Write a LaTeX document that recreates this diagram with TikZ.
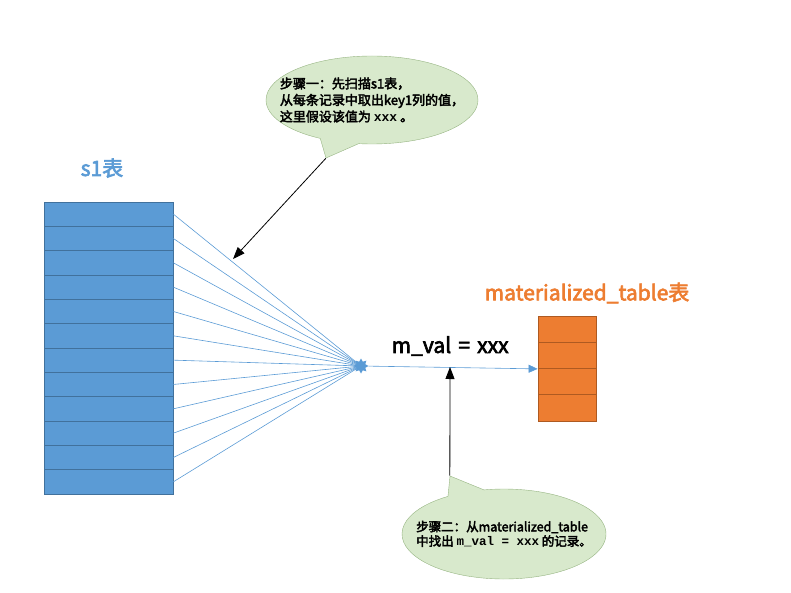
\documentclass[tikz,border=0pt]{standalone}
\usepackage{fontspec}
\setmainfont{Noto Sans CJK SC}[BoldFont={Noto Sans CJK SC},BoldFeatures={FakeBold=3}]
\setmonofont{Liberation Mono}
\usetikzlibrary{shapes.callouts,shapes.geometric,arrows.meta}
\definecolor{s1blue}{RGB}{91,155,213}
\definecolor{s1edge}{RGB}{65,113,156}
\definecolor{mtorange}{RGB}{237,125,49}
\definecolor{mtedge}{RGB}{174,90,33}
\definecolor{notefill}{RGB}{216,233,204}
\definecolor{noteedge}{RGB}{150,180,130}
\tikzset{
    s1row/.style={draw=s1edge,fill=s1blue,line width=0.8pt,minimum width=129pt,minimum height=24.33pt,inner sep=0pt},
    mtrow/.style={draw=mtedge,fill=mtorange,line width=0.8pt,minimum width=58pt,minimum height=26.25pt,inner sep=0pt},
    note/.style={ellipse callout,draw=noteedge,fill=notefill,inner xsep=-18pt,inner ysep=0pt,callout pointer arc=22,
        align=left,font=\fontsize{13}{16.5}\selectfont\bfseries},
    fanline/.style={s1blue,line width=0.6pt},
    title/.style={font=\fontsize{21}{24}\selectfont\bfseries}
}
\begin{document}
\begin{tikzpicture}[x=1pt,y=-1pt]
    \useasboundingbox (0,0) rectangle (791,593);
    \node[title,s1blue] (s1title) at (102,168) {s1表};
    \foreach \i in {1,...,12}
        \node[s1row] (s\i) at (108.5,{202+24.33*(\i-0.5)}) {};
    \node[title,mtorange] (mttitle) at (587,293) {materialized\_table表};
    \foreach \i in {1,...,4}
        \node[mtrow] (m\i) at (567,{316+26.25*(\i-0.5)}) {};
    \coordinate (hubc) at (361,366);
    \foreach \i in {1,...,12}
        \draw[fanline] (s\i.east) -- (hubc);
    \node[star,star points=8,star point ratio=1.6,fill=s1blue,minimum size=15pt,inner sep=0pt] (hub) at (hubc) {};
    \draw[fanline,-{Triangle[length=9pt,width=8pt]}] (hub) -- node[above=8pt,xshift=-3pt,black,title]{m\_val\hspace{0.12em} = \hspace{0.12em}xxx} (m2.south west);
    \node[note,minimum width=212pt,minimum height=88pt,callout absolute pointer={(326,158)}] (step1) at (372,100)
        {步骤一：先扫描s1表，\\从每条记录中取出key1列的值，\\这里假设该值为 {\ttfamily xxx} 。};
    \node[note,minimum width=204pt,minimum height=90pt,font=\fontsize{12.5}{14.5}\selectfont\bfseries,
        callout absolute pointer={(450,476)}] (step2) at (504,534)
        {步骤二：从materialized\_table\\中找出 {\ttfamily m\_val = xxx} 的记录。};
    \coordinate (fantip) at (233,259);
    \coordinate (valtip) at (450,367);
    \draw[-{Triangle[length=12pt,width=9pt]},line width=0.8pt] (step1.pointer) -- (fantip);
    \draw[-{Triangle[length=12pt,width=9pt]},line width=0.8pt] (step2.pointer) -- (valtip);
\end{tikzpicture}
\end{document}
